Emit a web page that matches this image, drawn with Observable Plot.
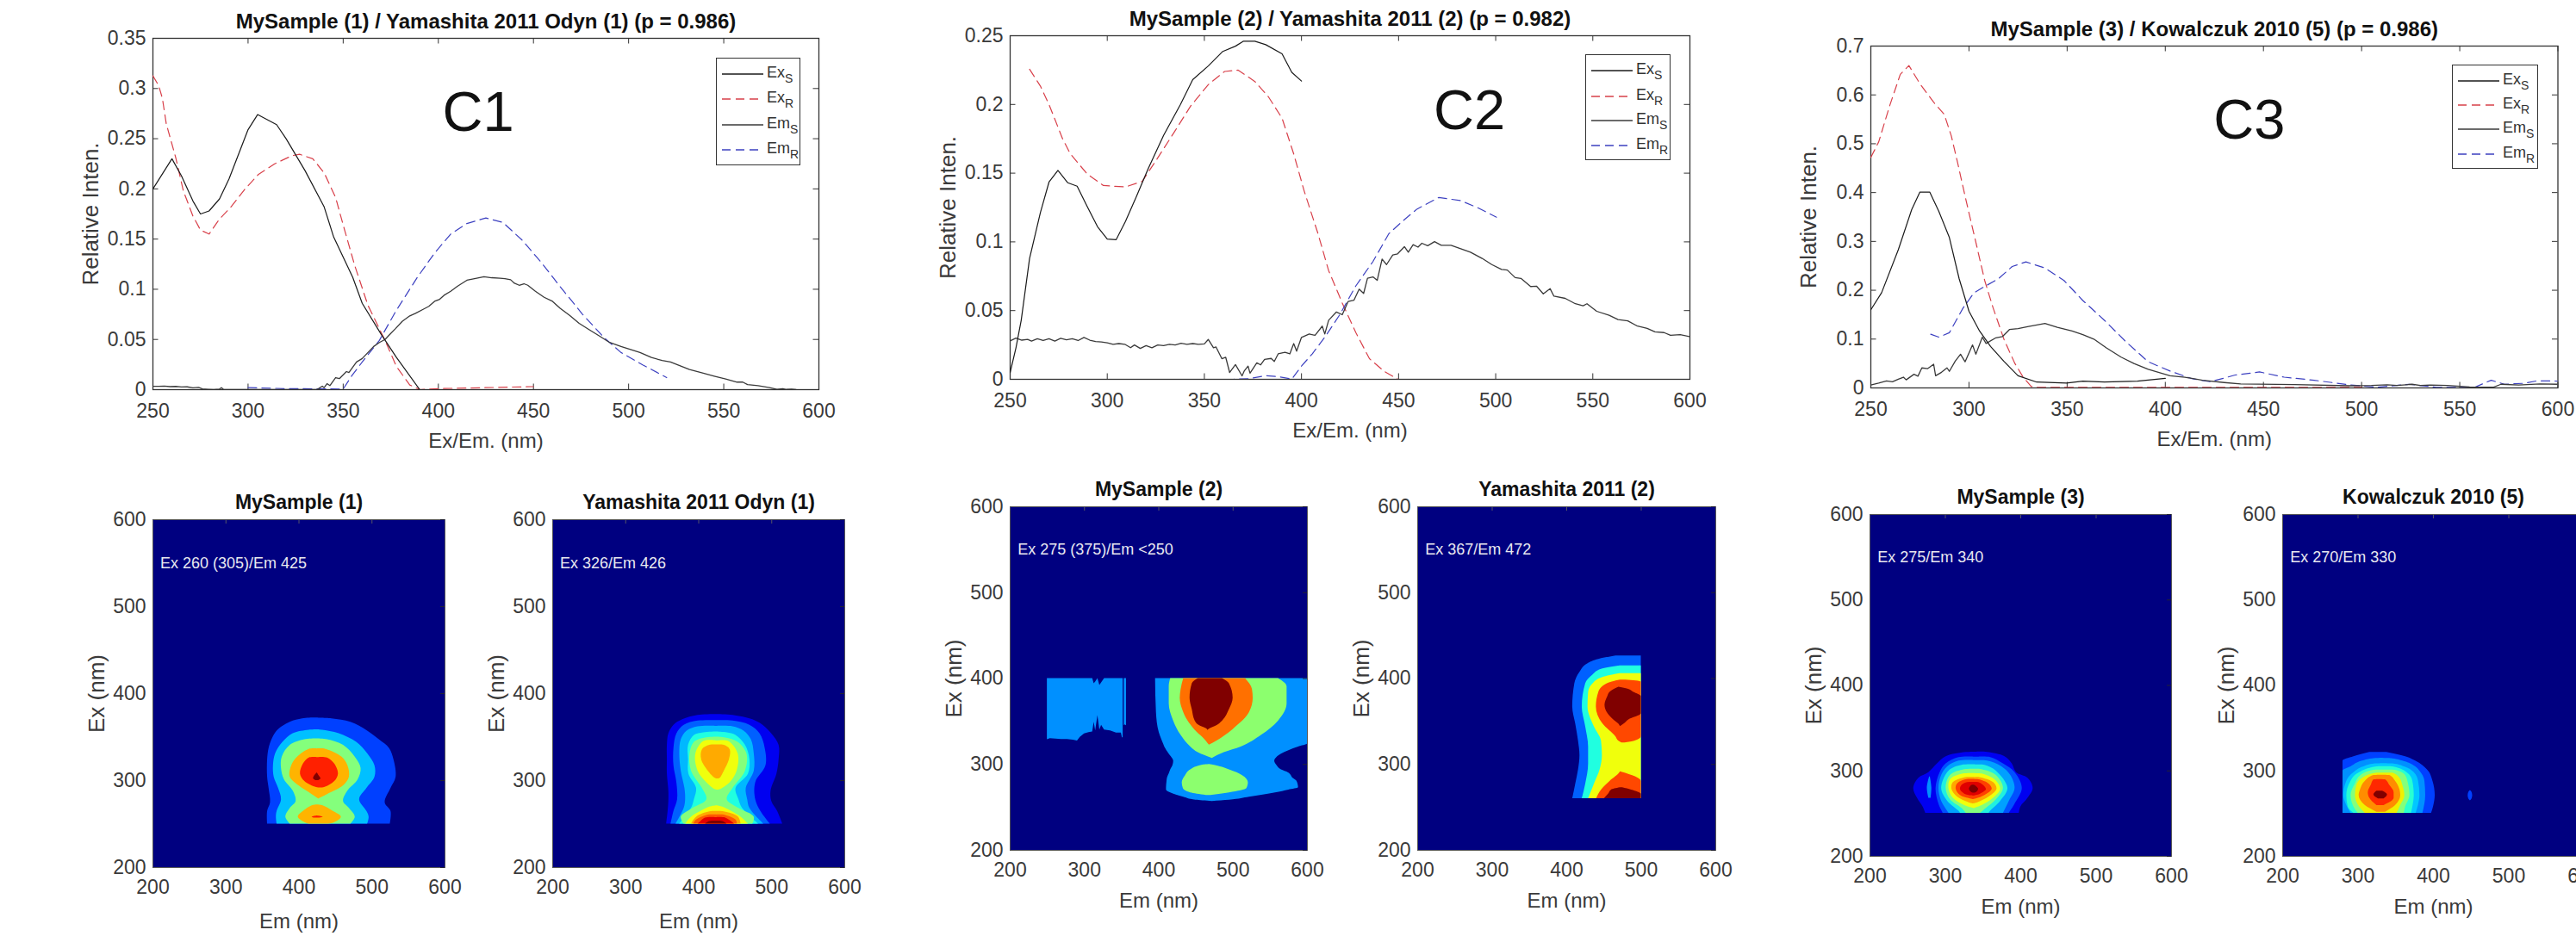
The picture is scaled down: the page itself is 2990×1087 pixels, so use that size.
<!DOCTYPE html>
<html><head><meta charset="utf-8">
<script src="https://cdn.jsdelivr.net/npm/d3@7"></script>
<script src="https://cdn.jsdelivr.net/npm/@observablehq/plot@0.6"></script>
<style>
html,body{margin:0;padding:0;background:#fff;overflow:hidden}
#page{position:relative;width:2990px;height:1087px;overflow:hidden;font-family:"Liberation Sans",Arial,sans-serif}
.leg{position:absolute;border:1.5px solid #333;background:#fff;box-sizing:border-box}
.leg svg{position:absolute;left:0;top:0}
.leg span{position:absolute;font-size:18px;color:#333;line-height:18px}
.leg sub{font-size:14px;vertical-align:-6px;line-height:0}
</style></head><body><div id="page"></div>
<script>
// ---------- Spectra: [wavelength nm, relative intensity] ----------
const p1ExS=[[250,.2],[260,.23],[265,.213],[271,.188],[275,.175],[279.5,.178],[285,.19],[290,.21],[300,.259],[305,.274],[315,.264],[320,.25],[330,.218],[340,.182],[345,.152],[355,.112],[360,.086],[370,.055],[378,.032],[390,.0006]];
const p1ExR=[[250,.3126],[253,.303],[255,.29],[257,.265],[262,.231],[266,.198],[271,.173],[275,.159],[279.5,.155],[285,.17],[291,.182],[298,.199],[305.5,.2145],[314,.225],[323,.233],[327,.2345],[334,.23],[340,.216],[346,.1915],[350,.164],[356,.124],[363,.084],[372,.049],[378,.023],[385,.0046],[390.5,0],[400,.001],[450,.003]];
const p1EmS=[[250,.0034],[253,.0033],[256,.0035],[259,.003],[262,.0032],[265,.0026],[268,.0028],[271,.0018],[274,.0022],[276,.0008],[279,.0004],[282,0],[285,.0006],[286,.002],[287,.0004],[290,0],[336,0],[337,.001],[339,.0035],[340,.002],[341.5,.006],[343,.004],[346,.012],[348,.011],[351.7,.018],[353,.017],[357,.0276],[360,.031],[363,.037],[366,.043],[369,.047],[372,.05],[374,.054],[377.6,.061],[381,.068],[385,.0735],[388,.076],[392,.08],[395,.083],[398,.088],[400.7,.09],[403,.094],[406.5,.098],[410,.103],[415,.109],[419,.1105],[424,.1125],[428,.1115],[432.5,.111],[435,.1105],[438,.1095],[440,.106],[442.5,.104],[445,.1055],[447,.104],[451,.098],[455.6,.092],[460,.088],[464,.081],[469,.074],[474,.066],[479,.06],[484.5,.0536],[490,.047],[496,.043],[501,.04],[506,.037],[512,.032],[517.6,.029],[522,.0275],[526,.0245],[532,.02],[538,.017],[545,.0135],[551,.0107],[557,.0075],[560,.0075],[562.5,.005],[568,.004],[574,.002],[578,.0003],[581,.001],[583,.0002],[585.6,.0006],[588,0]];
const p1EmR=[[300,.002],[320,.001],[350,.0006],[354.5,.0138],[360,.0276],[369,.049],[377.6,.078],[389,.112],[398,.136],[406.5,.155],[415,.1655],[425,.171],[434,.1665],[444,.149],[454,.127],[464,.1027],[475.8,.075],[487,.052],[496,.037],[507.6,.0245],[520,.012]];

const p2ExS=[[250,.005],[253,.023],[255.7,.043],[260,.088],[265.6,.1215],[270,.1435],[274.6,.152],[279.7,.143],[284.5,.1405],[289.6,.126],[295,.111],[300,.102],[304.6,.1016],[309.4,.115],[315,.133],[321,.153],[329,.1775],[337.7,.2],[344,.218],[352,.228],[359.5,.2386],[366,.2424],[370,.246],[376,.246],[381.6,.2435],[390,.2368],[395,.2234],[400,.217]];
const p2ExR=[[260,.2256],[265.6,.2133],[270,.2],[277,.175],[281,.164],[289.6,.1495],[298,.141],[309.4,.14],[318,.144],[326.4,.162],[335,.181],[343,.199],[352,.2144],[360.4,.224],[367.4,.225],[376,.2167],[383,.2055],[390,.19],[396,.164],[401.4,.137],[408.5,.106],[414,.079],[421,.0555],[428,.034],[435,.015],[442.4,.006],[449.5,.0002]];
const p2EmS=[[250,.028],[253,.03],[256,.0285],[259,.029],[261,.0278],[264,.0295],[267,.0282],[270,.0295],[273,.0278],[276,.0298],[279,.0288],[282,.0295],[285,.0282],[288,.0305],[291,.0285],[294,.0275],[297,.0272],[300,.0265],[303,.0255],[306,.026],[309,.0255],[312,.023],[314,.025],[317,.0225],[320,.0245],[323,.023],[326,.025],[329,.0245],[332,.0255],[335,.025],[338,.0262],[341,.0255],[344,.026],[347,.0255],[350,.0258],[352,.029],[354.7,.023],[356,.0235],[359,.015],[361,.016],[363,.005],[366,.0107],[369.4,.0025],[370.5,.006],[372.5,.0096],[373.5,.0045],[377,.012],[379,.0105],[381,.0145],[384.4,.0152],[386,.013],[388,.0185],[391.5,.0197],[394,.0185],[396,.026],[397.5,.0205],[400,.0305],[404,.033],[407,.032],[410.7,.0387],[412,.033],[414,.043],[418,.049],[421,.047],[424,.0566],[427,.0575],[429.7,.0656],[432,.0625],[434,.0735],[436.8,.0745],[439,.072],[441.5,.0875],[443.8,.0835],[447,.0905],[449.5,.0913],[453,.0965],[455,.0925],[457.5,.098],[460,.0962],[462,.099],[465,.0972],[468.5,.1002],[472,.0975],[477,.0975],[482,.095],[487,.0925],[493,.088],[498,.0835],[503,.08],[506,.0795],[510,.074],[513,.0734],[518,.0675],[521,.0678],[524.5,.0622],[528,.066],[530,.0605],[535.8,.0589],[541,.055],[545,.0535],[547,.055],[552,.0495],[558.4,.0466],[563,.0435],[568,.0425],[572.6,.039],[578,.037],[582,.0345],[586.7,.034],[590,.032],[595,.0325],[600,.031]];
const p2EmR=[[290,0],[365,0],[373,.0005],[381.6,.0027],[388.6,.0018],[395,.0002],[400,.0096],[405.6,.0186],[412.7,.032],[420,.0477],[428,.068],[436.8,.0857],[445,.106],[452,.115],[459.4,.1238],[470.7,.1323],[482,.13],[490.5,.125],[500.4,.118]];

const p3ExS=[[250,.16],[255.5,.195],[264,.283],[270.8,.365],[275,.401],[280,.401],[284.6,.362],[290,.308],[295,.2235],[300,.157],[305.4,.1165],[311,.085],[318,.0535],[325,.025],[334.5,.012],[349.7,.01],[358,.014],[369,.012],[385.8,.0138],[400,.0195]];
const p3ExR=[[250,.472],[254,.5036],[259.7,.579],[265,.642],[269.4,.66],[275,.623],[282,.585],[287.4,.56],[291,.516],[294.3,.4595],[298.5,.384],[304,.2896],[308,.22],[312.3,.1637],[318,.0976],[323.4,.05],[327.6,.022],[331.7,.003],[334.5,.001],[500,.001]];
const p3EmS=[[250,.006],[254,.01],[258,.0145],[261,.0125],[264,.018],[266.6,.022],[268,.0165],[272,.028],[274,.024],[276,.041],[279,.0395],[282,.0485],[283,.025],[286,.032],[288.8,.041],[290,.034],[293,.055],[295.7,.069],[298,.0535],[301.8,.088],[303.5,.069],[306.8,.104],[308.7,.091],[313.7,.1026],[317,.105],[320.6,.1196],[325,.1215],[330.4,.126],[334,.1285],[338.7,.132],[345,.124],[352.5,.1165],[358,.109],[363.6,.1],[370,.082],[377.5,.063],[384,.05],[391.3,.038],[402.4,.025],[410,.022],[419,.0157],[430,.011],[438.4,.008],[466,.007],[493.8,.0044],[505,.005],[513,.0063],[518,.005],[525.7,.0075],[530,.005],[535,.006],[543.7,.005],[555,.002],[567,.0013],[571,.0075],[580,.006],[590.8,.008],[600,.0075]];
const p3EmR=[[280.5,.11],[284.6,.104],[290,.113],[297,.1637],[302.6,.195],[308,.2077],[315,.2235],[322,.2486],[329,.258],[338.7,.2455],[348.4,.22],[358,.179],[369,.1385],[380,.0944],[391.3,.0535],[402.4,.0346],[413.5,.019],[423,.0126],[435.6,.0264],[448,.0327],[460.6,.022],[475.8,.0157],[494,.0063],[507.7,.0013],[524.3,.0075],[538,.0013],[557.6,.0013],[566,.0157],[572.8,.0075],[582.5,.0094],[589.4,.0145],[600,.014]];

// ---------- Contour bands: [Ex nm, left Em nm, right Em nm] ----------
const h1A=[[372,420,420],[371,405,445],[367,388,471],[357,370,494],[347,363,510],[337,359,524],[324,357,530],[304,357,533],[291,359,526],[274.5,361,518],[264.5,357,526],[250,357,525]];
const h1B=[[358.5,425,425],[358,414,432],[354,392,455],[344,378,479],[331,368,494],[317,365,504],[304,366,504],[291,372,493],[278,376,483],[264.5,370,493],[258,369,496],[250,370,494]];
const h1C=[[348,425,425],[347,408,439],[340.5,388,461],[327,377,477],[314,376,485],[301,380,481],[288,392,467],[276,396,461],[268,388,469],[258,382,477],[250,388,471]];
const h1D=[[336.5,425,425],[336,414,437],[327,398,459],[317,390,467],[304,388,469],[294,400,461],[284,418,439],[279,427,427]];
const h1E=[[272,425,425],[271,418,433],[264.5,406,447],[258,399,458],[251,410,447],[250,414,439]];
const h1F=[[326.5,425,425],[326,414,439],[319,406,449],[307.5,402,454],[299,408,449],[292,424,435],[291.5,430,430]];
const h1G=[[259.5,425,425],[258,418,433],[257,421,428]];
const h1H=[[309,425,425],[305,421,428],[302,420,430],[300,423,427]];

const h2A=[[376,425,425],[375,399,447],[370,378,474],[363.6,366,488],[353.7,359,500],[340.5,357,510],[324,357,510],[307.5,357,507],[288,359,499],[276,359,500],[264.6,358,508],[250,356,515]];
const h2B=[[369,425,425],[368.5,399,447],[363.6,380,470],[353.7,370,484],[337,366,491],[317,366,492],[297.6,370,478],[278,371,478],[264.6,366,485],[250,362,498]];
const h2C=[[362.5,425,425],[362,399,447],[357,384,462],[347,376,472],[330.6,374,476],[311,376,476],[291,381,465],[278,382,467],[268,380,470],[250,369,489]];
const h2D=[[356,425,425],[355,407,439],[352,394,451],[340.5,386,464],[324,386,470],[307.5,386.5,468],[291,397,451],[278,394,455],[268,390,460],[250,374,482]];
const h2E=[[350,425,425],[349,409,437],[344,394,454],[330.6,388,466],[311,390,464],[291,405,447],[278,411,439],[268,392,455],[258,376,476],[250,380,474]];
const h2F=[[345.6,425,425],[345,407,441],[330.6,396,454],[311,399,452.5],[297.6,411,443],[289.5,423,429],[289,426,426]];
const h2G=[[271,425,425],[269.5,415,433],[264.6,403,445],[258,390,458],[250,382,468]];
const h2H=[[341,425,425],[340.5,415,435],[335.5,405,443],[324,404,442],[311,413,435],[302.5,423,429],[302,426,426]];
const h2I=[[264.5,425,425],[264,415,435],[258,397,454.5],[250,390,458]];
const h2J=[[260.5,425,425],[260,411,437],[254.7,397,451],[250,393,453]];
const h2K=[[257.5,425,425],[257,409,437],[251.4,401,447],[250,399,449]];
const h2L=[[253.5,425,425],[253,415,433],[250,409,439]];

// block of h3 as [Em nm, upper Ex nm, lower Ex nm]
const h3Block=[[250,400,328.8],[254,400,330],[261.5,400,329.5],[269,400,329],[277,400,329],[285,400,328.4],[290.5,400,327.4],[294.3,400,331.5],[300,400,335.5],[306,400,337],[311,400,337.8],[313,394,349],[315,396,339],[318,400,357],[320.6,392,340],[323,395,345.5],[327,400,340],[335,400,339],[343,400,336.5],[349.6,400,336.5],[351,400,331],[352,400,331]];
const h3Sliver=[[353.5,400,345],[354.5,400,346],[356.5,400,345]];
const h3A=[[400,395.6,600],[360.5,396.8,600],[337,400.6,600],[323.8,406.4,600],[320.4,408,588],[312,414,565],[303.7,420,556],[298.7,419,559],[293.7,416,565],[290.3,414.5,574.5],[283.7,411.5,581],[280.3,411,586],[273,410.3,588],[270.3,410.3,575],[267,416,557],[262,433.5,522],[258.5,450,495],[257,472,472]];
const h3B=[[400,416,561],[390.6,414,572.6],[370.6,414,572.6],[350.5,420,561],[333.8,430,538],[320.4,443,510.8],[313.7,453,488],[307,472,472]];
const h3C=[[400,433.5,516.6],[387.3,430,526],[377,428.8,527],[360.5,433.5,522],[353.8,437,516.6],[343.8,445,504],[337,452,495],[330.4,460.5,484],[322.5,468,468]];
const h3D=[[400,453,485.6],[394,445,495],[377.3,442,500],[364,445,495],[350.5,449,485.6],[345,455,478],[341,465,468],[339.5,466,466]];
const h3E=[[300,468,468],[299.4,460.5,472],[293.7,443,495],[287,436,512.7],[278.6,431.5,520.5],[272,433,518.5],[267,443,495],[264,464,470]];

const h4A=[[426.4,466,500],[422.4,443,500],[417.4,428.5,500],[407.3,417.7,500],[394,410.8,500],[367,408,500],[347,412,500],[327,415.8,500],[310.4,417.7,500],[293.7,415.8,500],[277,412,500],[260.2,408,500]];
const h4B=[[414.7,471.7,500],[410.7,446.6,500],[404,435,500],[394,425.4,500],[367,420.8,500],[343.8,425.4,500],[320.4,429.3,500],[300.4,429.3,500],[277,425.4,500],[260.2,420.8,500]];
const h4C=[[405.7,471.7,500],[402.3,452.4,500],[395.6,437,500],[384,429.3,500],[367,428.5,500],[343.8,437,500],[327,446.6,500],[310.4,447.8,500],[293.7,444.7,500],[277,437,500],[260.2,429.3,500]];
const h4D=[[398.2,472,479],[396,461,500],[394,454.4,500],[384,443,500],[367,439.7,500],[347,448.6,500],[332,466,500],[327,470,491],[325,474,478]];
const h4E=[[390,470,470],[388,465,481],[384,458,490],[379,455,500],[369,451.3,500],[358.9,455.5,500],[352,463,483.3],[347,469.8,477],[344,472,472]];
const h4F=[[291.5,472,472],[291,471.7,474],[280.3,458,500],[270.3,446.6,500],[260.2,440,500]];
const h4G=[[273,472,475],[270.3,460,487],[265.3,456,500],[260.2,450.5,500]];

const h5A=[[322,342,342],[321.6,327.6,356.2],[316.6,301,379],[308.2,289.5,388.6],[298,278,394.3],[291.4,264.8,409.5],[279.6,258,416.4],[267.9,263,409.5],[257.8,270.5,400],[250.4,274,398]];
const h5B=[[316,342,342],[315.6,318,360],[308.2,301,377],[298,293,392.4],[279.6,287.6,402],[261.1,291.4,392.4],[250.4,297,384.8]];
const h5C=[[312,342,342],[311.5,318,356],[304.8,303,375],[294.7,295,386.7],[279.6,291.4,392.4],[264.5,295,384.8],[250.4,304.8,377]];
const h5D=[[307,342,342],[306.5,322,352.4],[299.8,304.8,367.6],[279.6,295,382.9],[264.5,303,373.3],[252.8,318,360],[250.4,320,358]];
const h5E=[[302,342,342],[301.5,325.7,348.6],[294.7,306.7,367.6],[279.6,301,377],[266.2,306.7,367.6],[256.1,322,354.3],[250.4,327.6,346.7]];
const h5F=[[296.8,342,342],[296.4,323.8,348.6],[289.7,306.7,365.7],[278.6,304.8,373.3],[267.9,310.5,363.8],[259.5,325.7,348.6],[256,338,338]];
const h5G=[[292.3,340,340],[292,325.7,346.7],[286.3,310.5,364],[278.6,308.6,368.4],[269.5,316,358],[262.8,331.4,342.9],[261.5,337,337]];
const h5H=[[290,340,340],[289.7,327.6,344.8],[284.7,316,358],[278.6,314.3,362],[271.2,320,352.4],[267.2,333.3,341],[266.5,337,337]];
const h5I=[[286.6,338,338],[286.3,329.5,344],[283,322,350.5],[278,320,354.3],[272.9,325.7,346.7],[270.6,337,337]];
const h5J=[[283.5,338,338],[283,335,339],[278.6,331.8,344],[274.6,335,341],[274,338,338]];
const h5Stripe=[[293,279,280],[280,276,282],[268,278,281]];

const h6A=[[321.6,315.5,338],[316.6,294.5,363],[311.5,280,376.4],[301.5,280,391.7],[288,280,399.3],[271.2,280,402.3],[257.8,280,400],[250.4,280,397.4]];
const h6B=[[314.8,330,330],[314.2,319.3,346],[311.5,306,359.3],[304.8,290.7,376.4],[299.8,280,382],[288,280,388.6],[271.2,280,389.7],[250.4,280,386]];
const h6C=[[308.6,334,334],[308.2,323,346],[304.8,307.8,361.2],[298,294.5,374.5],[288,285,380.2],[271.2,281,382],[259.5,285,380],[250.4,290.7,377]];
const h6D=[[305,334,334],[304.8,325,346],[298,302,365],[288,290.7,372.6],[271.2,285,374.5],[257.8,286.9,372.6],[250.4,294.5,370.7]];
const h6E=[[301,335,335],[300.8,321,349.7],[294.7,304,363],[284.7,296.4,366.9],[271.2,290.7,368.8],[257.8,294.5,363],[250.4,300.2,361.2]];
const h6F=[[297.6,335,335],[297.4,325,346],[291.4,306,355.5],[283,298.3,359.3],[271.2,296.4,362],[257.8,302,355.5],[250.4,309.7,351.7]];
const h6G=[[295,332,332],[294.7,321,342],[288,309.7,349.7],[278,303.3,355.5],[271.2,301.4,356.6],[259.5,309.7,349.7],[251.7,325,336.4]];
const h6H=[[290,329,329],[289.7,321,336.4],[283,317.4,342],[274.6,313.5,347.8],[267.9,315.5,347.8],[259.5,325,334.5]];
const h6I=[[276.3,325,332.6],[272,321,339],[267.2,327,334.5]];
const h6Dot=[[277,449,449],[275,447,451],[271,446,452],[267,447,451],[265,449,449]];

// ---------- Texts, ticks, colours ----------
const spectrumXTicks=[250,300,350,400,450,500,550,600];
const p1YTicks=[0,.05,.1,.15,.2,.25,.3,.35];
const p2YTicks=[0,.05,.1,.15,.2,.25];
const p3YTicks=[0,.1,.2,.3,.4,.5,.6,.7];
const heatTicks=[200,300,400,500,600];
const titles=["MySample (1) / Yamashita 2011 Odyn (1) (p = 0.986)","MySample (2) / Yamashita 2011 (2) (p = 0.982)","MySample (3) / Kowalczuk 2010 (5) (p = 0.986)"];
const bigLabels=[["C1",421,.276],["C2",486.5,.195],["C3",442.8,.548]];
const red="#d8404a", blue="#3c40c0", black="#1a1a1a", grey="#3a3a3a", ink="#3a3a3a";
const jet={navy:"#000080",b0:"#0000f0",b1:"#0040ff",b2:"#0090ff",b3:"#00c0ff",c:"#20ffe0",g:"#84ff7c",y:"#f0ff0c",o:"#ffb400",o2:"#ff7000",r0:"#ff4000",r:"#f01000",d:"#800000"};
const font='"Liberation Sans",Arial,sans-serif';
const page=document.getElementById("page");
const M={top:40,bottom:90,left:95,right:15};

function place(svg,L,T){svg.style.position="absolute";svg.style.left=(L-M.left)+"px";svg.style.top=(T-M.top)+"px";svg.style.background="transparent";svg.style.overflow="visible";page.appendChild(svg);}

function spectrum({L,R,T,B,yMax,yTicks,title,big,ExS,ExR,EmS,EmR}){
  const W=R-L,H=B-T,xLen=6.5*(350/W),yLen=6.5*(yMax/H);
  const line=(d,stroke,dash,sw=1.2)=>Plot.line(d,{x:d=>d[0],y:d=>d[1],stroke,strokeWidth:sw,strokeDasharray:dash,clip:true});
  const svg=Plot.plot({width:W+M.left+M.right,height:H+M.top+M.bottom,marginTop:M.top,marginBottom:M.bottom,marginLeft:M.left,marginRight:M.right,
    style:{fontFamily:font,background:"transparent"},
    x:{domain:[250,600]},y:{domain:[0,yMax]},
    marks:[
      Plot.frame({stroke:"#333",strokeWidth:1.3}),
      Plot.ruleX(spectrumXTicks,{y1:0,y2:yLen,stroke:"#333"}),
      Plot.ruleX(spectrumXTicks,{y1:yMax-yLen,y2:yMax,stroke:"#333"}),
      Plot.ruleY(yTicks,{x1:600-xLen,x2:600,stroke:"#333"}),
      Plot.ruleY(yTicks,{x1:250,x2:250+xLen,stroke:"#333"}),
      Plot.axisX({ticks:spectrumXTicks,tickSize:0,tickPadding:16,label:null,fontSize:23,fill:ink,tickFormat:d=>String(d)}),
      Plot.axisY({ticks:yTicks,tickSize:0,tickPadding:8,label:null,fontSize:23,fill:ink,tickFormat:d=>String(d)}),
      line(ExR,red,"10 6"),
      line(EmR,blue,"10 6"),
      line(EmS,grey,null,1.3),
      line(ExS,black,null,1.2),
      Plot.text([title],{frameAnchor:"top",dy:-19,lineAnchor:"middle",fontSize:24,fontWeight:"bold",fill:"#111"}),
      Plot.text(["Ex/Em. (nm)"],{frameAnchor:"bottom",dy:60,lineAnchor:"middle",fontSize:24,fill:ink}),
      Plot.text(["Relative Inten."],{frameAnchor:"left",dx:-72,rotate:-90,textAnchor:"middle",lineAnchor:"middle",fontSize:26,fill:ink}),
      Plot.text([big],{x:d=>d[1],y:d=>d[2],text:d=>d[0],fontSize:65,fill:"#111",lineAnchor:"middle"})
    ]});
  place(svg,L,T);
}

function heat({L,R,T,B,title,note,bands,extra=[],curve="catmull-rom",labelDy=59}){
  const W=R-L,H=B-T,xLen=5*(400/W),yLen=5*(400/H);
  const band=([d,fill])=>Plot.areaX(d3.sort(d,r=>r[0]),{y:r=>r[0],x1:r=>r[1],x2:r=>r[2],fill,curve});
  const svg=Plot.plot({width:W+M.left+M.right,height:H+M.top+M.bottom,marginTop:M.top,marginBottom:M.bottom,marginLeft:M.left,marginRight:M.right,
    style:{fontFamily:font,background:"transparent"},
    x:{domain:[200,600]},y:{domain:[200,600]},
    marks:[
      Plot.frame({fill:jet.navy,stroke:"#555",strokeWidth:1}),
      ...extra,
      ...bands.map(band),
      Plot.ruleX(heatTicks,{y1:600-yLen,y2:600,stroke:"#556"}),
      Plot.ruleY(heatTicks,{x1:600-xLen,x2:600,stroke:"#223"}),
      Plot.axisX({ticks:heatTicks,tickSize:0,tickPadding:14,label:null,fontSize:23,fill:ink,tickFormat:d=>String(d)}),
      Plot.axisY({ticks:heatTicks,tickSize:0,tickPadding:8,label:null,fontSize:23,fill:ink,tickFormat:d=>String(d)}),
      Plot.text([title],{frameAnchor:"top",dy:-20,lineAnchor:"middle",fontSize:23,fontWeight:"bold",fill:"#111"}),
      Plot.text(["Em (nm)"],{frameAnchor:"bottom",dy:labelDy,lineAnchor:"middle",fontSize:24,fill:ink}),
      Plot.text(["Ex (nm)"],{frameAnchor:"left",dx:-65,rotate:-90,textAnchor:"middle",lineAnchor:"middle",fontSize:26,fill:ink}),
      Plot.text([note],{x:210,y:550,textAnchor:"start",lineAnchor:"middle",fontSize:18,fill:"#e8e8f0"})
    ]});
  place(svg,L,T);
}

function legend(L,T,W,H,rowY,lineL,lineW){
  const entries=[["Ex","S",black,null],["Ex","R",red,"10 6"],["Em","S",grey,null],["Em","R",blue,"10 6"]];
  const box=document.createElement("div");box.className="leg";
  Object.assign(box.style,{left:L+"px",top:T+"px",width:W+"px",height:H+"px"});
  let s=`<svg width="${W}" height="${H}">`;
  entries.forEach((e,i)=>{s+=`<line x1="${lineL}" x2="${lineL+lineW}" y1="${rowY[i]}" y2="${rowY[i]}" stroke="${e[2]}" stroke-width="1.4" ${e[3]?`stroke-dasharray="${e[3]}"`:""}/>`;});
  s+="</svg>";
  entries.forEach((e,i)=>{s+=`<span style="left:${lineL+lineW+4}px;top:${rowY[i]-11}px">${e[0]}<sub>${e[1]}</sub></span>`;});
  box.innerHTML=s;page.appendChild(box);
}

spectrum({L:177,R:950,T:44,B:452,yMax:.35,yTicks:p1YTicks,title:titles[0],big:bigLabels[0],ExS:p1ExS,ExR:p1ExR,EmS:p1EmS,EmR:p1EmR});
spectrum({L:1172,R:1961,T:41,B:440,yMax:.25,yTicks:p2YTicks,title:titles[1],big:bigLabels[1],ExS:p2ExS,ExR:p2ExR,EmS:p2EmS,EmR:p2EmR});
spectrum({L:2170.5,R:2968,T:53,B:450,yMax:.7,yTicks:p3YTicks,title:titles[2],big:bigLabels[2],ExS:p3ExS,ExR:p3ExR,EmS:p3EmS,EmR:p3EmR});
legend(831,67,98,125,[18,47,77,106],6,48);
legend(1840,63,99,123,[18,48,76,105],6,48);
legend(2846,75,100,121,[18,46,74,103],6,48);

heat({L:177,R:516,T:603,B:1007,labelDy:63,title:"MySample (1)",note:"Ex 260 (305)/Em 425",bands:[[h1A,jet.b1],[h1B,jet.b3],[h1C,jet.g],[h1D,jet.o],[h1E,jet.o],[h1F,"#ff2000"],[h1G,"#ff2000"],[h1H,jet.d]]});
heat({L:641,R:980,T:603,B:1007,labelDy:63,title:"Yamashita 2011 Odyn (1)",note:"Ex 326/Em 426",bands:[[h2A,jet.b0],[h2B,"#0060ff"],[h2C,"#00b8ff"],[h2D,jet.c],[h2E,jet.g],[h2F,jet.y],[h2G,jet.y],[h2H,"#ffaa00"],[h2I,"#ffaa00"],[h2J,"#ff5a00"],[h2K,"#e60000"],[h2L,jet.d]]});
const blockFill=jet.b2;
heat({L:1172,R:1517,T:588,B:987,curve:"monotone-y",title:"MySample (2)",note:"Ex 275 (375)/Em <250",
  extra:[Plot.areaY(h3Block,{x:r=>r[0],y1:r=>r[1],y2:r=>r[2],fill:blockFill}),Plot.areaY(h3Sliver,{x:r=>r[0],y1:r=>r[1],y2:r=>r[2],fill:blockFill})],
  bands:[[h3A,jet.b2],[h3B,"#8cff6e"],[h3C,jet.o2],[h3D,jet.d],[h3E,"#8cff6e"]]});
heat({L:1645,R:1991,T:588,B:987,curve:"monotone-y",title:"Yamashita 2011 (2)",note:"Ex 367/Em 472",bands:[[h4A,"#0060ff"],[h4B,jet.c],[h4C,jet.y],[h4D,"#ff4800"],[h4E,jet.d],[h4F,"#ff4800"],[h4G,jet.d]]});
heat({L:2170,R:2520,T:597,B:994,title:"MySample (3)",note:"Ex 275/Em 340",bands:[[h5A,jet.b0],[h5Stripe,"#0090ff"],[h5B,"#0050ff"],[h5C,"#00a0ff"],[h5D,"#20f0e0"],[h5E,jet.g],[h5F,jet.y],[h5G,"#ffa800"],[h5H,"#ff4000"],[h5I,"#e00000"],[h5J,jet.d]]});
heat({L:2649,R:2999,T:597,B:994,curve:"monotone-y",title:"Kowalczuk 2010 (5)",note:"Ex 270/Em 330",bands:[[h6A,jet.b1],[h6Dot,jet.b1],[h6B,"#0090ff"],[h6C,"#00c8ff"],[h6D,"#28ffd2"],[h6E,jet.g],[h6F,"#f0f000"],[h6G,"#ff8c00"],[h6H,"#ff2800"],[h6I,jet.d]]});
</script></body></html>
